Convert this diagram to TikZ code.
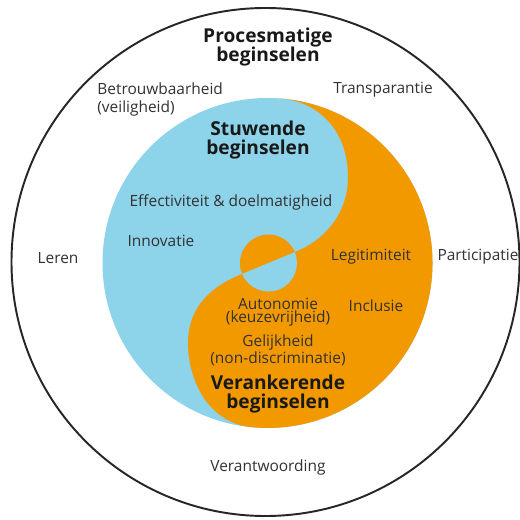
\documentclass[tikz,border=0pt]{standalone}
\usepackage{fontspec}
\setmainfont{Open Sans}
\definecolor{yyblue}{RGB}{141,211,233}
\definecolor{yyorange}{RGB}{242,153,0}
\definecolor{txt}{RGB}{50,50,50}
\definecolor{ttl}{RGB}{25,25,25}
\tikzset{
  lbl/.style={inner sep=0pt, text=txt, font=\fontsize{8.8}{10.6}\selectfont, align=center},
  lbltight/.style={inner sep=0pt, text=txt, font=\fontsize{8.8}{7.6}\selectfont, align=center},
  ttlbl/.style={inner sep=0pt, text=ttl, font=\fontsize{10.9}{11}\selectfont\bfseries, align=center},
  ring/.style={draw=black!85, line width=1.1pt}
}
\begin{document}
\begin{tikzpicture}[x=0.02cm,y=-0.02cm]
\useasboundingbox[fill=white] (0,0) rectangle (520,520);
% outer ring
\draw[ring] (265.5,262) circle[radius=254];
% yin-yang disc
\fill[yyblue] (267.5,263) circle[radius=165];
\fill[yyorange] (280,98.5) .. controls (320,101.5) and (348,132) .. (348,177)
  .. controls (348,215) and (323,241) .. (295,252)
  -- (242,274)
  .. controls (214,285) and (188,305) .. (188,343)
  .. controls (188,380) and (208,422) .. (250,427)
  arc[start angle=96.1, end angle=-85.7, radius=165] -- cycle;
% small central circle
\fill[yyorange] (268.5,263) circle[radius=28.5];
\fill[yyblue] (294.8,252.1) arc[start angle=-22.5, end angle=157.5, radius=28.5] -- cycle;
% labels
\node[ttlbl] (proc) at (268,47) {Procesmatige\\beginselen};
\node[lbl, anchor=west, align=left] (betr) at (97,99.5) {Betrouwbaarheid\\(veiligheid)};
\node[lbl] (trans) at (383,90) {Transparantie};
\node[ttlbl] (stuw) at (258,140) {Stuwende\\beginselen};
\node[lbl] (eff) at (231,202) {Effectiviteit \& doelmatigheid};
\node[lbl] (inno) at (161,241) {Innovatie};
\node[lbl] (leren) at (58,258) {Leren};
\node[lbl] (legit) at (371,257) {Legitimiteit};
\node[lbl] (part) at (478,257) {Participatie};
\node[lbltight] (auto) at (278,312.5) {Autonomie\\(keuzevrijheid)};
\node[lbl] (incl) at (376,306) {Inclusie};
\node[lbltight] (gelijk) at (278,350) {Gelijkheid\\(non-discriminatie)};
\node[ttlbl] (veran) at (278,394) {Verankerende\\beginselen};
\node[lbl] (verant) at (268,467) {Verantwoording};
\end{tikzpicture}
\end{document}
